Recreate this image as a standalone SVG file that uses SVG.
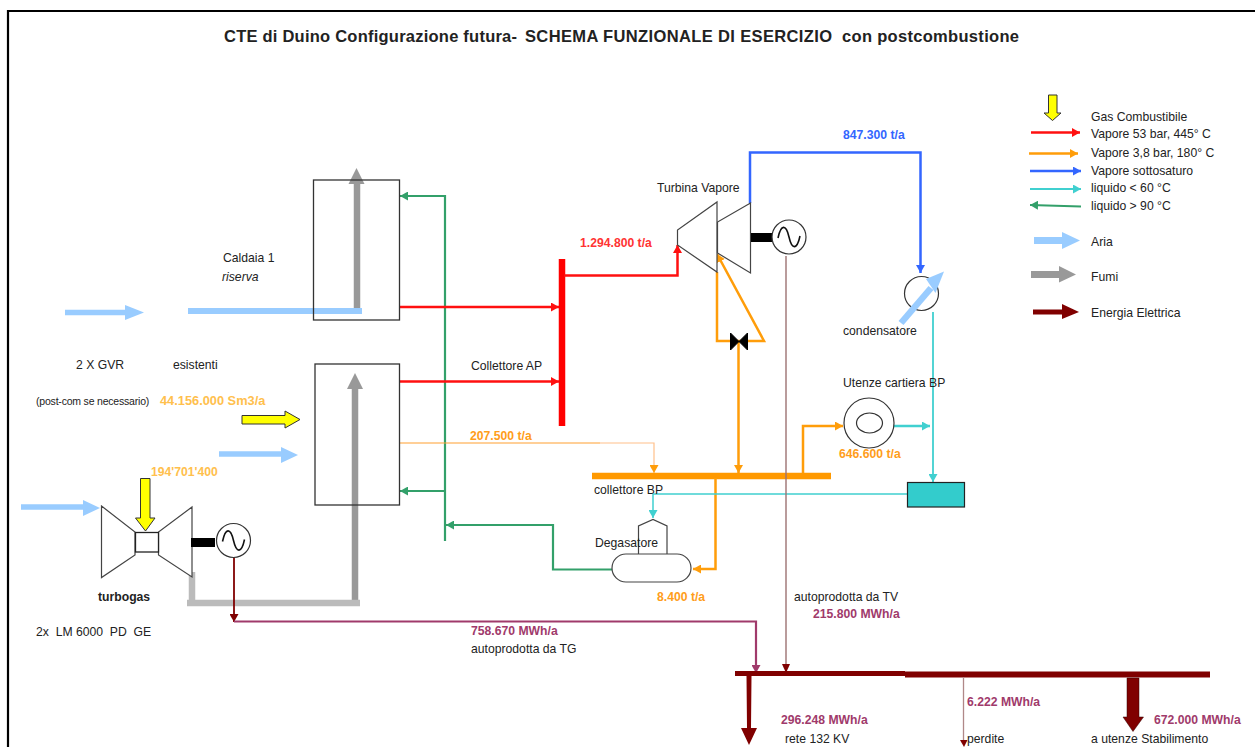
<svg xmlns="http://www.w3.org/2000/svg" width="1255" height="747" viewBox="0 0 1255 747">
<style>
text{font-family:"Liberation Sans",Arial,sans-serif;font-size:12.2px;fill:#222;white-space:pre}
.t{font-size:16.500px;font-weight:bold;fill:#222}
.b{font-weight:bold}
.o{fill:#ffc04d;font-weight:bold}
.oo{fill:#ff9d1a;font-weight:bold}
.m{fill:#a03a6b;font-weight:bold}
.eq{fill:#fff;stroke:#444;stroke-width:1.2}
.box{fill:none;stroke:#333;stroke-width:1.3}
.c{fill:none;stroke-linejoin:miter}
.red{stroke:#ff1010;stroke-width:2.500}
.org{stroke:#ff9d0a;stroke-width:2.500}
.blu{stroke:#3366ff;stroke-width:2.500}
.cy{stroke:#40d0d0;stroke-width:1.500}
.grn{stroke:#33a06a;stroke-width:2.200}
.air{stroke:#99ccff;stroke-width:5.500}
.gry{stroke:#999;stroke-width:6.500}
.lg{stroke:#bbb;stroke-width:6.500}
.dr{stroke:#800000;stroke-width:1.800}
.pu{stroke:#a03a6b;stroke-width:2.200}
</style>
<defs>
<marker id="aRed" markerUnits="userSpaceOnUse" markerWidth="9" markerHeight="9" refX="8" refY="4.500" orient="auto"><path d="M0 0L8 4.500L0 9z" fill="#ff1010"/></marker>
<marker id="aOrg" markerUnits="userSpaceOnUse" markerWidth="9" markerHeight="9" refX="8" refY="4.500" orient="auto"><path d="M0 0L8 4.500L0 9z" fill="#ff9d0a"/></marker>
<marker id="aBlu" markerUnits="userSpaceOnUse" markerWidth="9" markerHeight="9" refX="8" refY="4.500" orient="auto"><path d="M0 0L8 4.500L0 9z" fill="#3366ff"/></marker>
<marker id="aCy" markerUnits="userSpaceOnUse" markerWidth="9" markerHeight="9" refX="8" refY="4.500" orient="auto"><path d="M0 0L8 4.500L0 9z" fill="#40d0d0"/></marker>
<marker id="aGrn" markerUnits="userSpaceOnUse" markerWidth="9" markerHeight="9" refX="8" refY="4.500" orient="auto"><path d="M0 0L8 4.500L0 9z" fill="#33a06a"/></marker>
<marker id="aDr" markerUnits="userSpaceOnUse" markerWidth="9" markerHeight="9" refX="8" refY="4.500" orient="auto"><path d="M0 0L8 4.500L0 9z" fill="#800000"/></marker>
<marker id="aPu" markerUnits="userSpaceOnUse" markerWidth="9" markerHeight="9" refX="8" refY="4.500" orient="auto"><path d="M0 0L8 4.500L0 9z" fill="#a03a6b"/></marker>
<g id="gen"><circle r="17" fill="#fff" stroke="#333" stroke-width="1.200"/><path d="M-11 1C-8 -13 -3 -13 0 0S8 13 11 -1" fill="none" stroke="#111" stroke-width="1.600"/></g>
</defs>
<rect width="1255" height="747" fill="#fff"/>
<path d="M8 747V11H1255" fill="none" stroke="#000" stroke-width="2.200"/>
<text x="224" y="41.500" class="t" textLength="293" lengthAdjust="spacing">CTE di Duino Configurazione futura-</text>
<text x="525" y="41.500" class="t" textLength="307" lengthAdjust="spacing">SCHEMA FUNZIONALE DI ESERCIZIO</text>
<text x="842" y="41.500" class="t" textLength="177" lengthAdjust="spacing">con postcombustione</text>

<g id="connectors">
<path class="c air" d="M65 312.500H128"/><path d="M125 305L144 312.500L125 320z" fill="#99ccff"/>
<path class="c air" d="M219 454H283"/><path d="M281 447L298 455L281 463z" fill="#99ccff"/>
<path class="c air" d="M21 507H86"/><path d="M83 500L100 508L83 516z" fill="#99ccff"/>
<path class="c" d="M188 311H362" stroke="#99ccff" stroke-width="6"/>
<path class="c gry" d="M357 308V182"/><path d="M348.500 184L356.500 168L364.500 184z" fill="#999"/>
<path class="c gry" d="M355 600V385"/><path d="M347 389L355 373L363 389z" fill="#999"/>
<path class="c lg" d="M192 572V603M187 603H360"/>
<path class="c grn" d="M445 541V196H400" marker-end="url(#aGrn)"/>
<path class="c grn" d="M445 491H400" marker-end="url(#aGrn)"/>
<path class="c grn" d="M612 569.500H553V525H446" marker-end="url(#aGrn)"/>
<path class="c red" d="M399 307H559" marker-end="url(#aRed)"/>
<path class="c red" d="M399 381.500H559" marker-end="url(#aRed)"/>
<path d="M562 259V426" stroke="#ff0000" stroke-width="6.500" fill="none"/>
<path class="c red" d="M564 275.500H677.500V245" marker-end="url(#aRed)"/>
<path class="c" d="M400 443H600" stroke="#ffa030" stroke-width="1.200"/>
<path class="c" d="M600 443H654V473" stroke="#ffc08a" stroke-width="1.200" marker-end="url(#aOrg)"/>
<path class="c org" d="M717 272V341H764L717 254" marker-end="url(#aOrg)"/>
<path class="c org" d="M738.500 341V473" marker-end="url(#aOrg)"/>
<path d="M592 476H831" stroke="#ff9900" stroke-width="6.300" fill="none"/>
<path class="c org" d="M803 473V426H843" marker-end="url(#aOrg)"/>
<path class="c org" d="M715.500 478V569H693" marker-end="url(#aOrg)"/>
<path class="c blu" d="M750 203V152.500H920.500V273" marker-end="url(#aBlu)"/>
<path class="c cy" d="M933 312V482" marker-end="url(#aCy)" style="stroke-width:1.800"/>
<path class="c cy" d="M894 426H930" marker-end="url(#aCy)" style="stroke-width:2.400"/>
<path class="c cy" d="M907 494H653V518" marker-end="url(#aCy)"/>
<path class="c" d="M786 256V668" stroke="#9c7272" stroke-width="1.400"/>
<path d="M782 664H790L786 673z" fill="#800000"/>
<path class="c dr" d="M234 555V622" marker-end="url(#aDr)"/>
<path class="c pu" d="M234 621.500H756V673" marker-end="url(#aPu)"/>
<path d="M735 673.500H905" stroke="#800000" stroke-width="5" fill="none"/>
<path d="M905 674.500H1210" stroke="#800000" stroke-width="6" fill="none"/>
<path d="M746.500 676H751.500L751 728H757L749 745L741 728H747z" fill="#800000"/>
<path class="c" d="M963.500 677V741" stroke="#b08888" stroke-width="1.300"/>
<path d="M960 740H967.500L964 747z" fill="#800000"/>
<path d="M1127 678H1139V717H1143.500L1133 731.500L1123 717H1127z" fill="#800000" stroke="#300" stroke-width="0.500"/>
</g>

<g id="caldaia1"><rect class="box" x="313.500" y="180" width="86" height="140"/><text x="223" y="262">Caldaia 1</text><text x="222" y="281" font-style="italic">riserva</text></g>
<g id="gvr"><rect class="box" x="315" y="364" width="84.500" height="141"/></g>
<g id="gas-post"><path d="M242 415.500H285V411L300 419.500L285 428V424H242z" fill="#ffff00" stroke="#333"/></g>

<g id="turbogas">
<path class="eq" d="M101.500 506V577.500L135 555V532z"/>
<path class="eq" d="M192 507V577L158.500 555V532z"/>
<rect x="135.500" y="532.500" width="23" height="19.500" fill="#fff" stroke="#222" stroke-width="1.300"/>
<path d="M140.500 478.500H150V518H155L145.500 531L135.500 518H140.500z" fill="#ffff00" stroke="#333"/>
<rect x="191" y="538" width="24" height="9" fill="#000"/>
<use href="#gen" x="233.500" y="540.500"/>
<text x="98" y="601" class="b">turbogas</text>
<text x="36" y="636">2x  LM 6000  PD  GE</text>
</g>

<g id="turbina">
<path class="eq" d="M677.500 230V245L717 272V202z"/>
<path class="eq" d="M717.500 222V253L750.500 273V203z"/>
<rect x="751" y="233" width="24" height="9" fill="#000"/>
<use href="#gen" x="789" y="237"/>
<path d="M730.500 333V350L747.500 333V350z" fill="#000" stroke="#000"/>
<text x="657" y="192">Turbina Vapore</text>
</g>

<g id="condensatore">
<circle cx="921.500" cy="293.500" r="17" fill="#fff" stroke="#333" stroke-width="1.200"/>
<path d="M901 323L931 288" stroke="#99ccff" stroke-width="6.500" fill="none"/>
<path d="M926 279L944 271.500L935.500 293z" fill="#99ccff"/>
<text x="843" y="335">condensatore</text>
</g>

<g id="utenze">
<circle cx="869" cy="423" r="25" fill="#fff" stroke="#333" stroke-width="1.200"/>
<ellipse cx="869.500" cy="423" rx="13" ry="10" fill="#fff" stroke="#333" stroke-width="1.200"/>
<text x="843" y="387">Utenze cartiera BP</text>
</g>
<g id="serbatoio"><rect x="907.500" y="482.500" width="57" height="24.500" fill="#33cccc" stroke="#222" stroke-width="1.200"/></g>
<g id="degasatore">
<path class="eq" style="fill:none" d="M638.500 554V526L653 519.500L667 526V554"/>
<rect x="612" y="554" width="79" height="28" rx="14" fill="#fff" stroke="#444" stroke-width="1.200"/>
<text x="595" y="547">Degasatore</text>
</g>

<g id="labels">
<text x="76" y="369">2 X GVR</text>
<text x="173" y="369">esistenti</text>
<text x="36" y="405" style="font-size:10.500px;letter-spacing:-.2px">(post-com se necessario)</text>
<text x="160" y="405" class="o" style="font-size:12.800px">44.156.000 Sm3/a</text>
<text x="151" y="476" class="o">194'701'400</text>
<text x="471" y="370">Collettore AP</text>
<text x="470" y="440" class="oo">207.500 t/a</text>
<text x="580" y="247" class="b" style="fill:#ff3333">1.294.800 t/a</text>
<text x="843" y="139" class="b" style="fill:#3366ff">847.300 t/a</text>
<text x="594" y="494">collettore BP</text>
<text x="839" y="458" class="oo">646.600 t/a</text>
<text x="657" y="601" class="oo">8.400 t/a</text>
<text x="794" y="601">autoprodotta da TV</text>
<text x="813" y="618" class="m">215.800 MWh/a</text>
<text x="471" y="635" class="m">758.670 MWh/a</text>
<text x="471" y="653">autoprodotta da TG</text>
<text x="781" y="724" class="m">296.248 MWh/a</text>
<text x="785" y="743">rete 132 KV</text>
<text x="967" y="706" class="m">6.222 MWh/a</text>
<text x="967" y="743">perdite</text>
<text x="1154" y="724" class="m">672.000 MWh/a</text>
<text x="1091" y="743">a utenze Stabilimento</text>
</g>

<g id="legend">
<path d="M1048.500 95H1057V113H1061L1052.500 120.500L1044 113H1048.500z" fill="#ffff00" stroke="#333"/>
<text x="1091" y="121">Gas Combustibile</text>
<path class="c red" d="M1031 132.500H1080" marker-end="url(#aRed)"/><text x="1091" y="138">Vapore 53 bar, 445° C</text>
<path class="c org" d="M1029 153.500H1078" marker-end="url(#aOrg)"/><text x="1091" y="157">Vapore 3,8 bar, 180° C</text>
<path class="c blu" d="M1030 171H1081" marker-end="url(#aBlu)"/><text x="1091" y="175">Vapore sottosaturo</text>
<path class="c cy" d="M1030 189H1081" marker-end="url(#aCy)" style="stroke-width:2.200"/><text x="1091" y="192">liquido &lt; 60 °C</text>
<path class="c grn" d="M1081 206.500L1030 205" marker-end="url(#aGrn)"/><text x="1091" y="210">liquido &gt; 90 °C</text>
<path d="M1034 237H1062V232L1080 240.500L1062 249V244H1034z" fill="#99ccff"/><text x="1091" y="246">Aria</text>
<path d="M1031 271H1059V266L1076 274.500L1059 282.500V278H1031z" fill="#999"/><text x="1091" y="281">Fumi</text>
<path d="M1033 309.500H1062V304L1079 312L1062 319V314.500H1033z" fill="#800000"/><text x="1091" y="317">Energia Elettrica</text>
</g>
</svg>
